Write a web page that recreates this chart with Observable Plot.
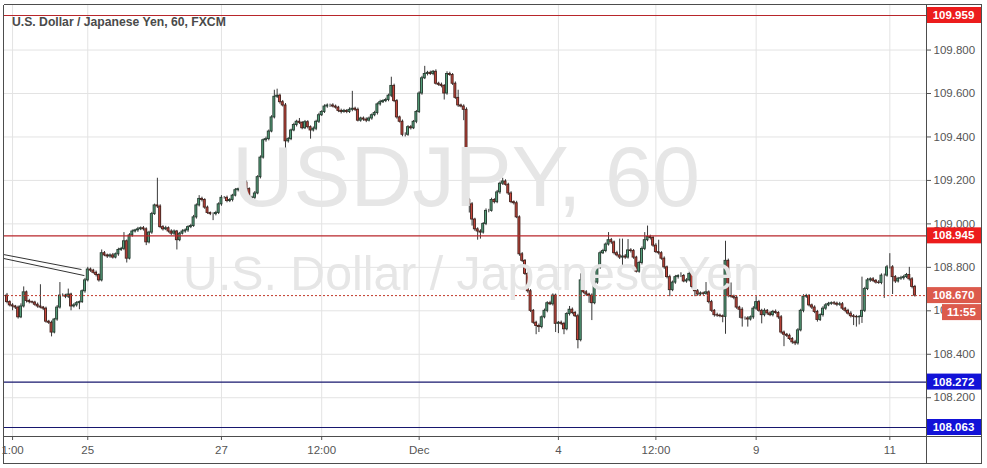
<!DOCTYPE html>
<html><head><meta charset="utf-8">
<script src="https://cdn.jsdelivr.net/npm/d3@7"></script>
<script src="https://cdn.jsdelivr.net/npm/@observablehq/plot@0.6"></script>
<style>html,body{margin:0;padding:0;background:#fff;}svg{display:block;}</style>
</head><body><div id="chart"></div>
<script>
// ---- data (USD/JPY, 60-minute bars, FXCM) ----
const firstOpen = 108.67;
const closes = [
108.64,108.625,108.62,108.615,108.57,108.62,108.685,108.645,108.64,108.638,
108.628,108.62,108.615,108.61,108.55,108.545,108.50,108.56,108.615,108.67,
108.67,108.665,108.675,108.62,108.625,108.635,108.64,108.69,108.74,108.79,
108.785,108.775,108.765,108.74,108.865,108.855,108.85,108.855,108.845,108.86,
108.88,108.885,108.92,108.84,108.947,108.965,108.97,108.975,108.98,108.975,
108.915,108.96,109.045,109.085,109.08,108.985,108.975,108.98,108.965,108.955,
108.965,108.925,108.955,108.965,108.97,108.985,108.99,109.03,109.085,109.115,
109.11,109.075,109.05,109.045,109.045,109.05,109.09,109.12,109.12,109.105,
109.11,109.13,109.155,109.16,109.18,109.19,109.16,109.115,109.12,109.14,
109.215,109.305,109.385,109.39,109.425,109.49,109.585,109.59,109.56,109.545,
109.38,109.39,109.43,109.455,109.47,109.465,109.44,109.468,109.445,109.43,
109.438,109.47,109.5,109.515,109.54,109.545,109.545,109.54,109.535,109.52,
109.515,109.52,109.515,109.525,109.53,109.525,109.475,109.485,109.48,109.475,
109.485,109.5,109.51,109.55,109.56,109.565,109.57,109.59,109.635,109.565,
109.49,109.47,109.41,109.41,109.445,109.44,109.47,109.515,109.6,109.67,
109.69,109.695,109.69,109.7,109.645,109.64,109.635,109.6,109.69,109.685,
109.645,109.58,109.545,109.54,109.525,109.11,109.09,109.02,108.975,108.965,
108.96,109.0,109.06,109.06,109.11,109.1,109.145,109.185,109.195,109.18,
109.14,109.1,109.095,109.03,108.86,108.83,108.77,108.69,108.6,108.545,
108.53,108.525,108.57,108.6,108.635,108.63,108.67,108.54,108.545,108.54,
108.515,108.585,108.605,108.59,108.575,108.465,108.74,108.685,108.675,108.67,
108.635,108.73,108.8,108.865,108.875,108.905,108.925,108.915,108.865,108.855,
108.845,108.85,108.845,108.878,108.875,108.845,108.78,108.82,108.885,108.925,
108.94,108.935,108.9,108.87,108.865,108.84,108.8,108.755,108.695,108.73,
108.755,108.76,108.76,108.735,108.74,108.77,108.71,108.69,108.675,108.68,
108.678,108.685,108.64,108.6,108.58,108.578,108.575,108.572,108.83,108.668,
108.665,108.66,108.615,108.605,108.565,108.565,108.56,108.57,108.61,108.64,
108.6,108.58,108.6,108.588,108.58,108.595,108.59,108.57,108.5,108.49,
108.485,108.47,108.455,108.45,108.51,108.6,108.665,108.668,108.625,108.615,
108.595,108.558,108.58,108.61,108.625,108.632,108.635,108.633,108.628,108.63,
108.61,108.6,108.587,108.575,108.572,108.57,108.572,108.6,108.7,108.74,
108.745,108.738,108.73,108.728,108.762,108.762,108.8,108.8,108.755,108.735,
108.748,108.75,108.755,108.765,108.745,108.71,108.67
];
// upper / lower shadow lengths, in thousandths of a yen
const wickUp = [
10,6,8,5,7,12,25,6,8,5, 6,8,100,5,7,6,8,5,9,60, 8,6,25,6,8,7,5,6,9,10, 7,6,8,5,15,8,6,7,9,6,
8,7,40,6,8,7,5,9,6,8, 7,6,8,6,125,8,7,9,6,8, 7,5,6,8,7,6,8,9,7,15, 8,6,7,5,6,8,7,10,6,8,
7,6,8,5,7,20,8,6,7,9, 7,8,6,9,7,8,30,30,7,8, 9,7,6,8,7,15,6,8,7,6, 8,7,9,6,8,7,6,8,7,6,
8,7,6,9,80,7,8,6,7,8, 7,6,8,7,9,6,8,7,40,8, 7,6,8,9,7,8,6,7,8,9, 35,7,8,6,9,7,8,6,10,8,
7,8,35,6,8,9,7,8,6,7, 8,6,9,7,8,6,9,7,15,8, 7,8,6,9,7,8,6,7,8,6, 7,9,6,8,7,9,8,7,6,8,
7,6,15,8,7,9,30,7,8,6, 8,7,6,9,8,7,35,8,6,9, 75,80,9,50,8,7,6,8,9,35, 50,8,7,9,55,7,8,6,9,7,
8,6,15,7,8,9,7,6,8,7, 6,45,7,8,6,9,7,6,90,8, 60,7,8,6,9,7,8,6,9,25, 8,7,9,6,8,7,9,6,8,7,
6,8,7,9,8,7,9,8,7,6, 8,7,6,9,8,7,6,8,7,9, 8,6,7,9,8,7,6,155,8,9, 7,8,6,9,8,7,9,63,8,7,
6,9,8,7,35,8,7
];
const wickDown = [
8,7,20,9,8,6,7,9,8,6, 7,8,6,9,7,8,20,6,8,7, 6,9,8,20,7,8,30,6,9,7, 8,6,9,8,7,6,9,8,7,6,
9,7,8,20,6,8,7,9,6,8, 15,7,8,6,9,7,8,6,7,9, 8,45,7,6,8,9,7,6,8,7, 9,8,6,7,30,8,7,9,6,8,
7,9,6,8,7,6,8,10,9,7, 6,8,7,9,8,6,7,8,9,7, 40,8,7,6,9,8,7,6,8,40, 7,9,8,6,7,8,9,6,7,8,
9,6,8,7,9,8,6,7,8,9, 6,8,7,9,8,6,7,8,9,7, 8,6,9,10,7,8,6,9,7,8, 6,9,7,8,6,7,9,30,8,6,
8,7,9,6,50,8,40,30,9,40, 30,7,8,9,6,8,7,9,8,6, 9,7,8,6,9,8,7,9,8,7, 40,25,8,7,9,6,8,40,45,8,
25,7,9,8,6,40,8,7,9,35, 80,7,8,9,6,8,7,9,8,7, 9,45,8,7,9,8,6,7,9,8, 7,9,8,6,8,7,9,8,30,7,
8,9,7,6,8,7,9,25,8,7, 9,6,8,7,9,8,7,27,80,8, 7,9,8,40,40,8,35,7,9,8, 7,40,8,9,7,8,6,9,8,55,
8,7,9,10,8,7,9,8,7,9, 8,10,7,9,8,6,7,8,9,7, 8,9,7,8,40,45,35,30,8,7, 9,8,7,6,8,105,7,8,80,9,
7,8,9,7,8,9,7
];
const priceTicks = [108.2,108.4,108.6,108.8,109.0,109.2,109.4,109.6,109.8];
const timeTickIndex = [2,29,77,113,148,198,233,269,317];
const timeTickLabels = ["1:00","25","27","12:00","Dec","4","12:00","9","11"];
const resistanceLevels = [109.959, 108.945];
const supportLevels = [108.272, 108.063];
const lastPrice = 108.670;
const countdown = "11:55";
const trendLines = [
  {x1: -1.26, y1: 108.859, x2: 26.75, y2: 108.790},
  {x1: -1.26, y1: 108.841, x2: 27.8, y2: 108.762}
];
const titleText = "U.S. Dollar / Japanese Yen, 60, FXCM";
const watermark1 = "USDJPY, 60";
const watermark2 = "U.S. Dollar / Japanese Yen";

if (closes.length !== wickUp.length || closes.length !== wickDown.length)
  throw new Error("length mismatch " + closes.length + " " + wickUp.length + " " + wickDown.length);

const candles = closes.map((c, i) => {
  const o = i === 0 ? firstOpen : closes[i - 1];
  return {i, open: o, close: c,
    high: Math.max(o, c) + wickUp[i] / 1000,
    low: Math.min(o, c) - wickDown[i] / 1000,
    up: c >= o};
});
const labelOf = new Map(timeTickIndex.map((d, k) => [d, timeTickLabels[k]]));
const FONT = "'Liberation Sans', Arial, sans-serif";

const W = 987, H = 468, mL = 3, mR = 61, mT = 4, mB = 32;
const chart = Plot.plot({
  width: W, height: H,
  marginLeft: mL, marginRight: mR, marginTop: mT, marginBottom: mB,
  style: {background: "#fff", color: "#555", fontFamily: FONT, fontSize: "11px", overflow: "visible"},
  x: {domain: [-1.257, 330.17], axis: null},
  y: {domain: [108.0216, 110.0096], axis: null},
  marks: [
    Plot.gridY(priceTicks, {stroke: "#e3e3e3", strokeOpacity: 1}),
    Plot.gridX(timeTickIndex, {stroke: "#e3e3e3", strokeOpacity: 1}),
    Plot.ruleX(candles, {x: "i", y1: "low", y2: "high", stroke: "#383838", strokeWidth: 1, ariaLabel: "wicks"}),
    Plot.rect(candles, {x1: d => d.i - 0.36, x2: d => d.i + 0.36, y1: "open", y2: "close",
      fill: d => d.up ? "#55a07b" : "#c8463c",
      stroke: d => d.up ? "#263b30" : "#45221d", strokeWidth: 0.9}),
    Plot.ruleY(resistanceLevels, {stroke: "#b8262b", strokeWidth: 1.2}),
    Plot.ruleY(supportLevels, {stroke: "#17176e", strokeWidth: 1.2}),
    Plot.ruleY([lastPrice], {stroke: "#c0392b", strokeWidth: 1, strokeDasharray: "2,2"}),
    Plot.link(trendLines, {x1: "x1", y1: "y1", x2: "x2", y2: "y2", stroke: "#333", strokeWidth: 1}),
    Plot.axisY(priceTicks, {anchor: "right", tickFormat: d3.format(".3f"), tickSize: 4, tickPadding: 3, fontSize: 11.5, label: null}),
    Plot.axisX(timeTickIndex, {anchor: "bottom", tickFormat: d => labelOf.get(d), tickSize: 4, tickPadding: 5, fontSize: 11.5, label: null})
  ]
});
document.getElementById("chart").append(chart);

const svg = d3.select(chart);
const ys = chart.scale("y");

function fitText(sel, target) {
  const w = sel.node().getBBox().width;
  const fs = parseFloat(sel.attr("font-size"));
  sel.attr("font-size", fs * target / w);
}
// watermark under candles
const wm = svg.insert("g", "g[aria-label='wicks']").attr("fill", "#e6e6e6").attr("font-family", FONT);
const w1 = wm.append("text").attr("x", 466).attr("y", 206).attr("text-anchor", "middle").attr("font-size", 90).text(watermark1);
fitText(w1, 468);
const w2 = wm.append("text").attr("x", 471.5).attr("y", 290).attr("text-anchor", "middle").attr("font-size", 46).text(watermark2);
fitText(w2, 577);

// title
const t = svg.append("text").attr("x", 12).attr("y", 26).attr("fill", "#4a4a4a")
  .attr("text-anchor", "start").attr("font-family", FONT).attr("font-weight", "bold")
  .attr("font-size", 13).text(titleText);
fitText(t, 214);

// price labels on the axis
function priceBox(value, color) {
  const yc = ys.apply(value);
  svg.append("rect").attr("x", 926).attr("y", yc - 8).attr("width", 55).attr("height", 16).attr("fill", color);
  svg.append("text").attr("x", 953.5).attr("y", yc).attr("dy", "0.36em").attr("text-anchor", "middle")
    .attr("fill", "#fff").attr("font-weight", "bold").attr("font-size", 11.5)
    .attr("font-family", FONT).text(d3.format(".3f")(value));
}
resistanceLevels.forEach(v => priceBox(v, "#ec1c1c"));
supportLevels.forEach(v => priceBox(v, "#1212d8"));
priceBox(lastPrice, "#dc5a4c");
{
  const yc = ys.apply(lastPrice);
  svg.append("rect").attr("x", 942).attr("y", yc + 9).attr("width", 39).attr("height", 16).attr("fill", "#dc5a4c");
  svg.append("text").attr("x", 961.5).attr("y", yc + 17).attr("dy", "0.36em").attr("text-anchor", "middle")
    .attr("fill", "#fff").attr("font-weight", "bold").attr("font-size", 11.5)
    .attr("font-family", FONT).text(countdown);
}

// frame
const fr = svg.append("g").attr("stroke", "#4d4d4d").attr("stroke-width", 1).attr("shape-rendering", "crispEdges");
[[3,4,981,4],[3,4,3,463],[926,4,926,463],[981,4,981,463],[3,436,981,436],[3,463,981,463]]
  .forEach(([a,b,c,d]) => fr.append("line").attr("x1", a+0.5).attr("y1", b+0.5).attr("x2", c+0.5).attr("y2", d+0.5));
</script>
</body></html>
